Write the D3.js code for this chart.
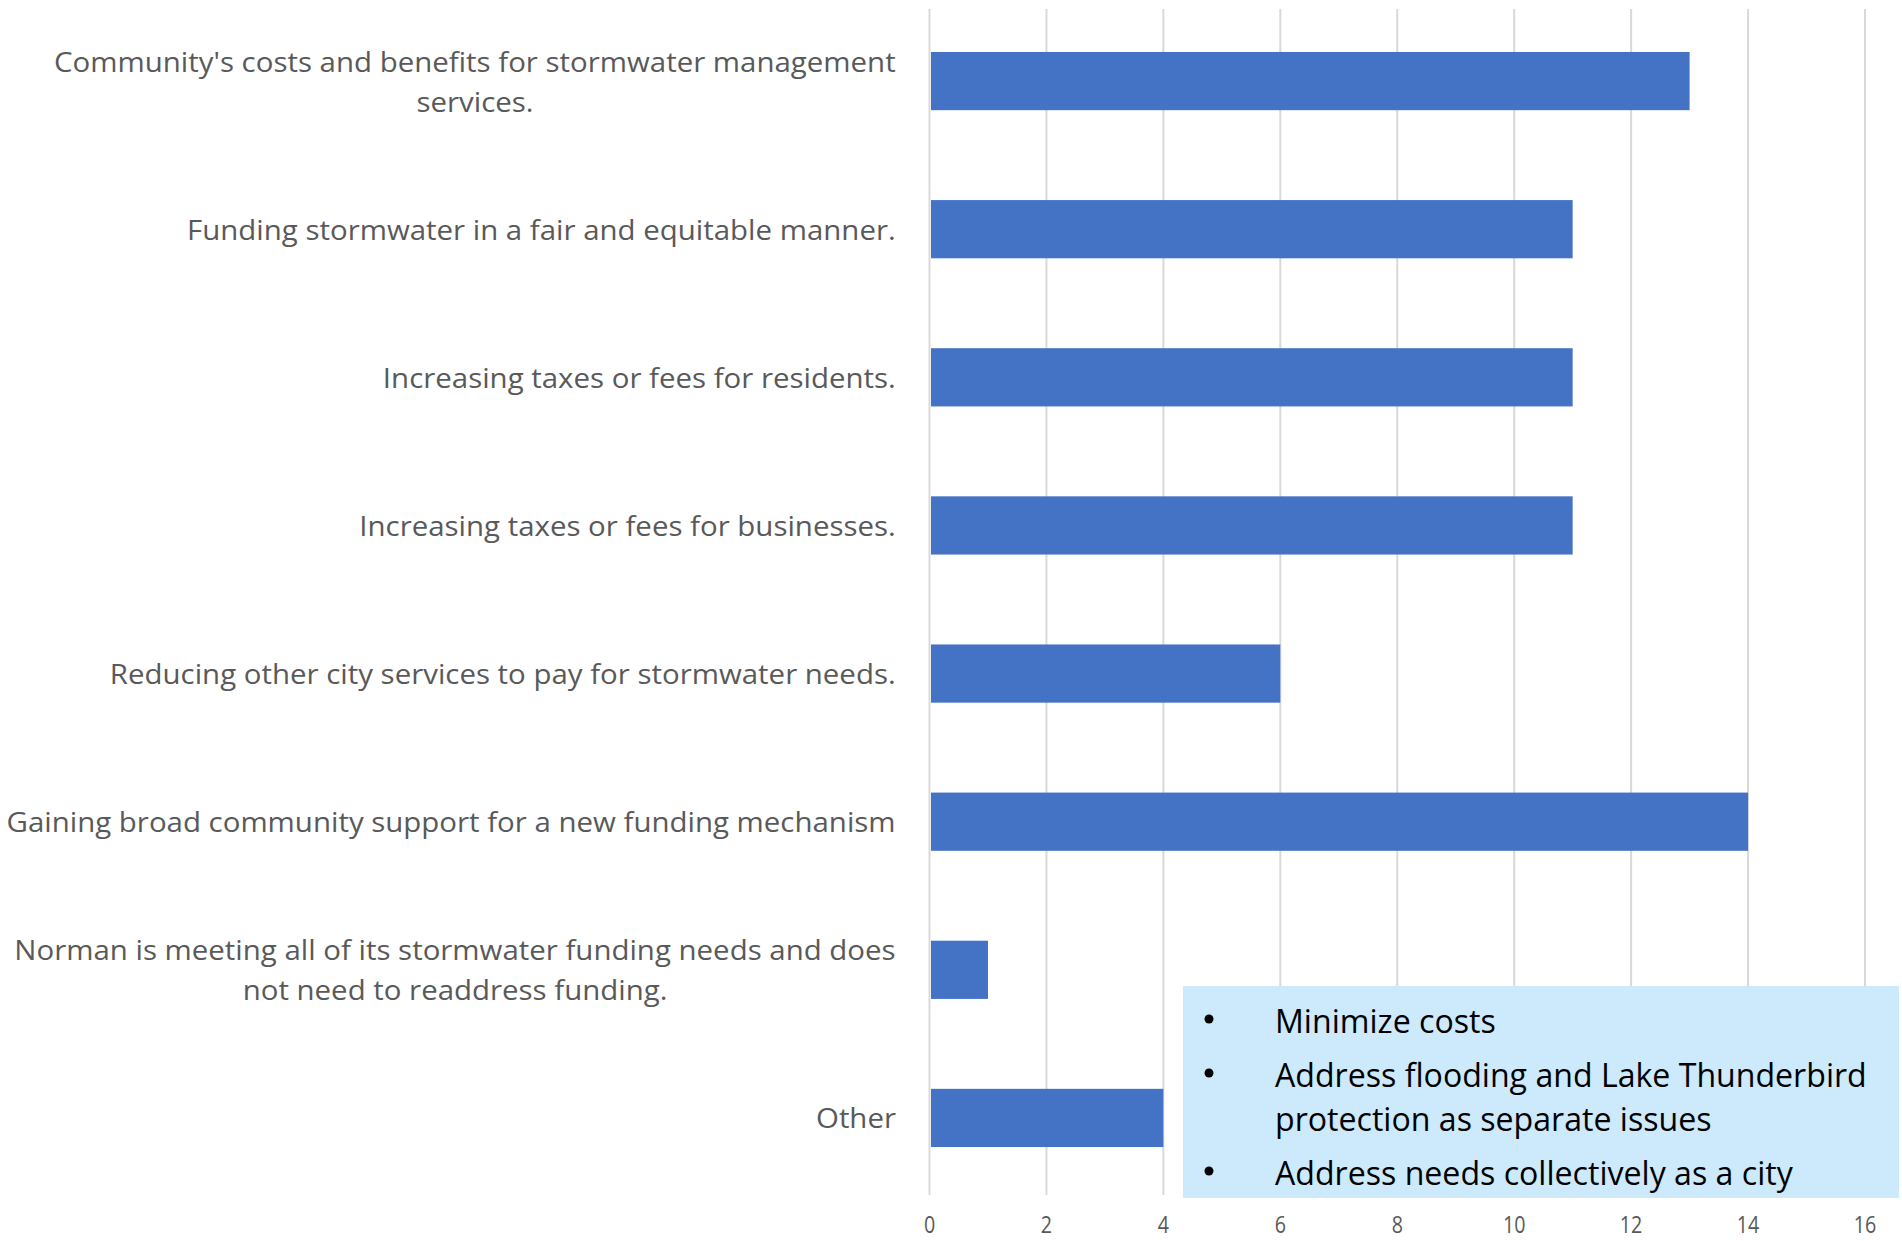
<!DOCTYPE html>
<html>
<head>
<meta charset="utf-8">
<script src="https://cdn.jsdelivr.net/npm/d3@7"></script>
<style>
  html, body { margin: 0; padding: 0; background: #fff; }
  svg { display: block; }
</style>
</head>
<body>
<svg id="chart" width="1902" height="1241"></svg>
<script>
// Survey responses: concerns about stormwater funding
const categories = [
  "Community's costs and benefits for stormwater management\nservices.",
  "Funding stormwater in a fair and equitable manner.",
  "Increasing taxes or fees for residents.",
  "Increasing taxes or fees for businesses.",
  "Reducing other city services to pay for stormwater needs.",
  "Gaining broad community support for a new funding mechanism",
  "Norman is meeting all of its stormwater funding needs and does\nnot need to readdress funding.",
  "Other"
];
const counts = [13, 11, 11, 11, 6, 14, 1, 4];
const xTicks = [0, 2, 4, 6, 8, 10, 12, 14, 16];
const otherResponses = [
  ["Minimize costs"],
  ["Address flooding and Lake Thunderbird", "protection as separate issues"],
  ["Address needs collectively as a city"]
];

const svg = d3.select("#chart");

const x = d3.scaleLinear().domain([0, 16]).range([929.5, 1865]);
const y = d3.scaleBand().domain(categories).range([7, 1192])
  .paddingInner(0.607).paddingOuter(0.3035);

const plotTop = 9, plotBottom = 1195;

// horizontal factor that makes a group's width equal targetWidth
function fitGroup(g, targetWidth) {
  const w = g.node().getBBox().width;
  return w > 0 ? targetWidth / w : 1;
}

// vertical gridlines
const grid = svg.append("g").attr("class", "grid");
grid.selectAll("line").data(xTicks).join("line")
  .attr("x1", d => x(d)).attr("x2", d => x(d))
  .attr("y1", plotTop).attr("y2", plotBottom)
  .attr("stroke", "#d9d9d9").attr("stroke-width", 2);

// bars
svg.append("g").selectAll("rect").data(categories).join("rect")
  .attr("x", x(0) + 1.5)
  .attr("y", d => y(d))
  .attr("width", (d, i) => x(counts[i]) - x(0) - 1.5)
  .attr("height", y.bandwidth())
  .attr("fill", "#4472c4");

// x tick labels
const tickG = svg.append("g");
xTicks.forEach(t => {
  const g = tickG.append("g");
  g.append("text").text(t)
    .attr("text-anchor", "middle")
    .attr("font-family", "Open Sans, sans-serif")
    .attr("font-size", 24)
    .attr("fill", "#595959");
  g.attr("transform", `translate(${x(t)},1233) scale(0.82,1)`);
});

// category labels (right-aligned; wrapped labels centred on their block)
const labelFont = 27, labelLine = 40, labelRight = 896;
const labelG = svg.append("g");
const labelGroups = categories.map(c => {
  const lines = c.split("\n");
  const g = labelG.append("g");
  const cy = y(c) + y.bandwidth() / 2;
  lines.forEach((ln, j) => {
    g.append("text").text(ln)
      .attr("x", 0)
      .attr("y", cy + (j - (lines.length - 1) / 2) * labelLine)
      .attr("dominant-baseline", "central")
      .attr("font-family", "Open Sans, sans-serif")
      .attr("font-size", labelFont)
      .attr("fill", "#595959");
  });
  return { g, lines };
});
// common horizontal scale, from the longest first line
const kLabel = fitGroup(labelGroups[0].g, 842);
labelGroups.forEach(({ g }) => {
  const texts = g.selectAll("text").nodes();
  const widths = texts.map(t => t.getComputedTextLength());
  const maxW = d3.max(widths);
  texts.forEach((t, j) => {
    // centre each line within the block width
    d3.select(t).attr("x", -maxW + (maxW - widths[j]) / 2);
  });
  g.attr("transform", `translate(${labelRight},0) scale(${kLabel},1)`);
});

// callout box listing "Other" responses
const box = { x: 1183, y: 986, w: 716, h: 212 };
svg.append("rect")
  .attr("x", box.x).attr("y", box.y).attr("width", box.w).attr("height", box.h)
  .attr("fill", "#cdeafc");

const boxG = svg.append("g");
const lineYs = [[1020], [1074, 1118], [1172]];
const bulletG = svg.append("g");
otherResponses.forEach((item, i) => {
  bulletG.append("circle")
    .attr("cx", 1209).attr("cy", lineYs[i][0] - 1).attr("r", 4.5)
    .attr("fill", "#000");
  item.forEach((ln, j) => {
    boxG.append("text").text(ln)
      .attr("x", 0).attr("y", lineYs[i][j])
      .attr("dominant-baseline", "central")
      .attr("font-family", "Open Sans, sans-serif")
      .attr("font-size", 33)
      .attr("fill", "#000");
  });
});
const kBox = fitGroup(boxG, 592);
boxG.attr("transform", `translate(1275,0) scale(${kBox},1)`);
</script>
</body>
</html>
